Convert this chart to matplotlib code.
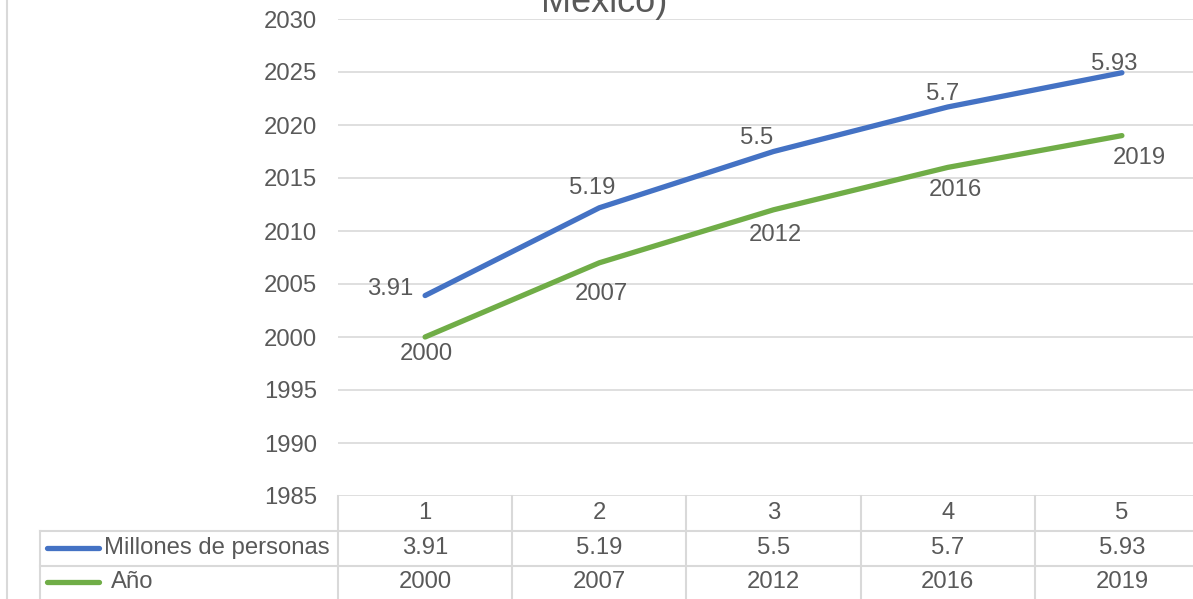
import numpy as np
import matplotlib
matplotlib.use('Agg')
import matplotlib.pyplot as plt
from matplotlib.transforms import blended_transform_factory

plt.rcParams['font.family'] = ['Liberation Sans', 'DejaVu Sans']

# series (line chart is stacked: blue = año + millones)
categorias = [1, 2, 3, 4, 5]
millones = [3.91, 5.19, 5.5, 5.7, 5.93]
anio = [2000, 2007, 2012, 2016, 2019]
yticks = [1985, 1990, 1995, 2000, 2005, 2010, 2015, 2020, 2025, 2030]

azul = '#4472C4'
verde = '#70AD47'
gris = '#D9D9D9'
texto = '#595959'
fs = 17.2

W, H = 1193, 599
fig = plt.figure(figsize=(W / 100, H / 100), dpi=100)

def fx(px):
    return px / W

def fy(py):
    return 1 - py / H

ax = fig.add_axes([fx(338), fy(496), fx(1209) - fx(338), fy(19) - fy(496)])
ax.set_xlim(0.5, 5.5)
ax.set_ylim(1985, 2030)
ax.set_yticks(yticks)
ax.set_xticks([])
ax.tick_params(axis='y', length=0, pad=15, labelsize=fs, labelcolor=texto)
for s in ax.spines.values():
    s.set_visible(False)
ax.grid(axis='y', color=gris, lw=1.2)
ax.set_axisbelow(True)

x = np.array(categorias)
apilado = np.array(anio) + np.array(millones)
ax.plot(x, apilado, color=azul, lw=3.8, solid_capstyle='round', clip_on=False)
ax.plot(x, anio, color=verde, lw=3.8, solid_capstyle='round', clip_on=False)

# data labels (pixel offsets)
off_azul = [(-35, -7), (-7, -20), (-17, -14), (-5, -13), (-8, -9)]
off_verde = [(1, 17), (2, 31), (2, 25), (8, 23), (17, 22)]
for i in range(5):
    dx, dy = off_azul[i]
    ax.annotate(f"{millones[i]:g}", (x[i], apilado[i]), xytext=(dx * 0.72, -dy * 0.72),
                textcoords='offset points', ha='center', va='center', fontsize=fs, color=texto)
    dx, dy = off_verde[i]
    ax.annotate(f"{anio[i]}", (x[i], anio[i]), xytext=(dx * 0.72, -dy * 0.72),
                textcoords='offset points', ha='center', va='center', fontsize=fs, color=texto)

# data table under the plot
bt = blended_transform_factory(ax.transData, fig.transFigure)
for xb in np.arange(0.5, 6.0, 1.0):
    fig.add_artist(plt.Line2D([xb, xb], [fy(496), fy(600)], transform=bt, color=gris, lw=1.5))
for yb in [531, 566]:
    fig.add_artist(plt.Line2D([fx(40), 1.0], [fy(yb), fy(yb)], transform=fig.transFigure, color=gris, lw=1.5))
fig.add_artist(plt.Line2D([fx(40), fx(40)], [fy(531), fy(600)], transform=fig.transFigure, color=gris, lw=1.5))

for i in range(5):
    fig.text(x[i], fy(513), str(categorias[i]), transform=bt, ha='center', va='center', fontsize=fs, color=texto)
    fig.text(x[i], fy(548), f"{millones[i]:g}", transform=bt, ha='center', va='center', fontsize=fs, color=texto)
    fig.text(x[i], fy(582), str(anio[i]), transform=bt, ha='center', va='center', fontsize=fs, color=texto)

fig.add_artist(plt.Line2D([fx(47), fx(99)], [fy(548), fy(548)], transform=fig.transFigure,
                          color=azul, lw=3.8, solid_capstyle='round'))
fig.add_artist(plt.Line2D([fx(47), fx(99)], [fy(582), fy(582)], transform=fig.transFigure,
                          color=verde, lw=3.8, solid_capstyle='round'))
fig.text(fx(104), fy(548), "Millones de personas", ha='left', va='center', fontsize=fs, color=texto)
fig.text(fx(111), fy(582), "Año", ha='left', va='center', fontsize=fs, color=texto)

# chart border and clipped title
fig.add_artist(plt.Line2D([fx(7), fx(7)], [0, 1], transform=fig.transFigure, color=gris, lw=1.5))
fig.text(fx(604), fy(12), "México)", ha='center', va='baseline', fontsize=26, color=texto)

fig.savefig('out.png', dpi=100)
